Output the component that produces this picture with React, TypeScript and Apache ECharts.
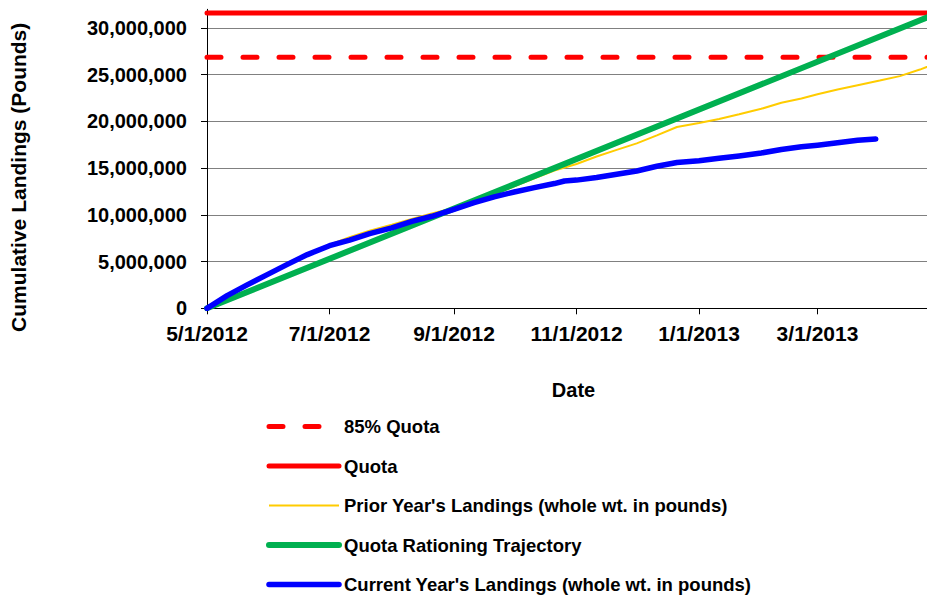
import React, { useEffect, useRef } from "react";
import * as echarts from "echarts";

// ---- data ----
const xTickDates = ["2012-05-01", "2012-07-01", "2012-09-01", "2012-11-01", "2013-01-01", "2013-03-01"];
const yTicks = [0, 5000000, 10000000, 15000000, 20000000, 25000000, 30000000];

const seasonStart = "2012-05-01";
const seasonEnd = "2013-04-30";
const axisEnd = "2013-05-01";

const quota = 31600000;
const quota85 = 26860000;

const priorDates = [
  "2012-05-01", "2012-05-11", "2012-05-21", "2012-05-31", "2012-06-10", "2012-06-20",
  "2012-07-01", "2012-07-11", "2012-07-21", "2012-08-01", "2012-08-11", "2012-08-21",
  "2012-09-01", "2012-09-11", "2012-09-21", "2012-10-01", "2012-10-11", "2012-10-21",
  "2012-11-01", "2012-11-11", "2012-11-21", "2012-12-01", "2012-12-11", "2012-12-21",
  "2013-01-01", "2013-01-11", "2013-01-21", "2013-02-01", "2013-02-11", "2013-02-21",
  "2013-03-01", "2013-03-11", "2013-03-21", "2013-04-01", "2013-04-11", "2013-04-21",
  "2013-04-30",
];
const priorValues = [
  0, 1400000, 2550000, 3650000, 4750000, 5800000,
  6800000, 7600000, 8300000, 8950000, 9550000, 10150000,
  10750000, 11350000, 12200000, 13050000, 13900000, 14750000,
  15450000, 16250000, 16950000, 17650000, 18500000, 19400000,
  19830000, 20250000, 20770000, 21350000, 22000000, 22450000,
  22900000, 23420000, 23880000, 24380000, 24850000, 25550000,
  26300000,
];

const currentDates = [
  "2012-05-01", "2012-05-11", "2012-05-21", "2012-05-31", "2012-06-10", "2012-06-20",
  "2012-07-01", "2012-07-11", "2012-07-21", "2012-08-01", "2012-08-11", "2012-08-21",
  "2012-09-01", "2012-09-11", "2012-09-21", "2012-10-01", "2012-10-11", "2012-10-21",
  "2012-10-26", "2012-11-01", "2012-11-11", "2012-11-21", "2012-12-01", "2012-12-11",
  "2012-12-21", "2013-01-01", "2013-01-11", "2013-01-21", "2013-02-01", "2013-02-11",
  "2013-02-21", "2013-03-01", "2013-03-11", "2013-03-21", "2013-03-30",
];
const currentValues = [
  0, 1350000, 2500000, 3600000, 4700000, 5750000,
  6700000, 7290000, 8000000, 8600000, 9300000, 9850000,
  10600000, 11300000, 11920000, 12450000, 12920000, 13350000,
  13620000, 13720000, 14000000, 14350000, 14700000, 15200000,
  15600000, 15800000, 16050000, 16300000, 16620000, 17000000,
  17280000, 17460000, 17720000, 17980000, 18120000,
];

const trajectoryDates = [seasonStart, seasonEnd];
const trajectoryValues = [0, quota];

const seriesNames = [
  "85% Quota",
  "Quota",
  "Prior Year's Landings (whole wt. in pounds)",
  "Quota Rationing Trajectory",
  "Current Year's Landings (whole wt. in pounds)",
];

// ---- helpers ----
const ts = (s: string) => Date.parse(s + "T00:00:00Z");
const fmtDate = (v: number) => {
  const d = new Date(v);
  return `${d.getUTCMonth() + 1}/${d.getUTCDate()}/${d.getUTCFullYear()}`;
};
const pair = (dates: string[], vals: number[]) => dates.map((d, i) => [ts(d), vals[i]]);

const FONT = "'Liberation Sans', Arial, sans-serif";

export default function App() {
  const ref = useRef<HTMLDivElement>(null);
  useEffect(() => {
    if (!ref.current) return;
    const chart = echarts.init(ref.current, undefined, { renderer: "svg" });
    const xTicks = xTickDates.map(ts);
    chart.setOption({
      animation: false,
      backgroundColor: "#ffffff",
      textStyle: { fontFamily: FONT },
      grid: {
        left: 207,
        top: 9.3,
        right: -13,
        bottom: 287.7,
        containLabel: false,
        outerBoundsMode: "none",
      },
      legend: {
        orient: "vertical",
        left: 266,
        top: 417,
        height: 220,
        padding: 0,
        itemWidth: 70,
        itemHeight: 18,
        itemGap: 20.5,
        data: seriesNames,
        itemStyle: { opacity: 0 },
        lineStyle: { width: "inherit" },
        textStyle: { fontFamily: FONT, fontSize: 18.5, fontWeight: "bold", color: "#000", lineHeight: 18 },
      },
      xAxis: {
        type: "value",
        min: ts(seasonStart),
        max: ts(axisEnd),
        name: "Date",
        nameLocation: "middle",
        nameGap: 72,
        nameTextStyle: { fontFamily: FONT, fontSize: 20, fontWeight: "bold", color: "#000" },
        axisLine: { show: true, lineStyle: { color: "#000", width: 1 } },
        axisTick: { show: true, length: 6, customValues: xTicks, lineStyle: { color: "#000" } },
        axisLabel: {
          customValues: xTicks,
          formatter: (v: number) => fmtDate(v),
          fontFamily: FONT,
          fontSize: 21,
          fontWeight: "bold",
          color: "#000",
          margin: 15,
        },
        splitLine: { show: false },
      },
      yAxis: {
        type: "value",
        min: 0,
        max: 32000000,
        interval: 5000000,
        name: "Cumulative Landings (Pounds)",
        nameLocation: "middle",
        nameGap: 178,
        nameTextStyle: { fontFamily: FONT, fontSize: 21, fontWeight: "bold", color: "#000", padding: [0, 37, 0, 0] },
        axisLine: { show: true, lineStyle: { color: "#000", width: 1 } },
        axisTick: { show: true, length: 6, customValues: yTicks, lineStyle: { color: "#000" } },
        axisLabel: {
          customValues: yTicks,
          formatter: (v: number) => v.toLocaleString("en-US"),
          fontFamily: FONT,
          fontSize: 20,
          fontWeight: "bold",
          color: "#000",
          margin: 20,
        },
        splitLine: { show: true, lineStyle: { color: "#808080", width: 1 } },
      },
      series: [
        {
          name: seriesNames[0],
          type: "line",
          symbol: "none",
          color: "#FF0000",
          lineStyle: { color: "#FF0000", width: 5, type: [14, 22], cap: "round" },
          data: [[ts(seasonStart), quota85], [ts(axisEnd), quota85]],
        },
        {
          name: seriesNames[1],
          type: "line",
          symbol: "none",
          color: "#FF0000",
          lineStyle: { color: "#FF0000", width: 5, cap: "round" },
          data: [[ts(seasonStart), quota], [ts(axisEnd), quota]],
        },
        {
          name: seriesNames[2],
          type: "line",
          symbol: "none",
          color: "#FFCC00",
          lineStyle: { color: "#FFCC00", width: 2 },
          data: pair(priorDates, priorValues),
        },
        {
          name: seriesNames[3],
          type: "line",
          symbol: "none",
          color: "#00B050",
          lineStyle: { color: "#00B050", width: 6, cap: "round" },
          data: pair(trajectoryDates, trajectoryValues),
        },
        {
          name: seriesNames[4],
          type: "line",
          symbol: "none",
          color: "#0000FF",
          lineStyle: { color: "#0000FF", width: 5.5, cap: "round", join: "round" },
          data: pair(currentDates, currentValues),
        },
      ],
    });
    return () => chart.dispose();
  }, []);
  return <div ref={ref} style={{ width: 927, height: 596, position: "absolute", left: 0, top: 0 }} />;
}
